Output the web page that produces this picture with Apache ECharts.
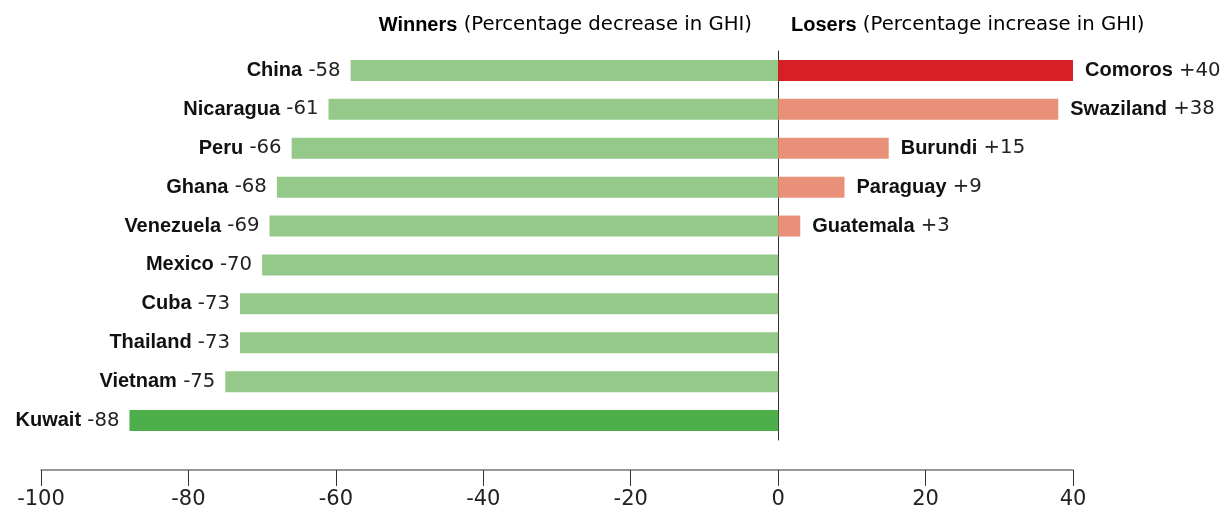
<!DOCTYPE html>
<html>
<head>
<meta charset="utf-8">
<script src="https://cdn.jsdelivr.net/npm/echarts@6/dist/echarts.min.js"></script>
<style>
html, body { margin: 0; padding: 0; background: #fff; }
#main { width: 1221px; height: 511px; }
</style>
</head>
<body>
<div id="main"></div>
<script>
// winners (decrease in GHI), one per row, top to bottom
var winners = ['China', 'Nicaragua', 'Peru', 'Ghana', 'Venezuela', 'Mexico', 'Cuba', 'Thailand', 'Vietnam', 'Kuwait'];
var winnerValues = [-58, -61, -66, -68, -69, -70, -73, -73, -75, -88];
// losers (increase in GHI), sharing the first rows
var losers = ['Comoros', 'Swaziland', 'Burundi', 'Paraguay', 'Guatemala'];
var loserValues = [40, 38, 15, 9, 3];
var xTicks = [-100, -80, -60, -40, -20, 0, 20, 40];

var BOLD = 'Liberation Sans';
var REG = 'DejaVu Sans';
var chartDom = document.getElementById('main');
var myChart = echarts.init(chartDom);

var rich = {
    b: { fontFamily: BOLD, fontSize: 20, fontWeight: 'bold', color: '#111' },
    n: { fontFamily: REG, fontSize: 19.7, color: '#222' }
};

var winData = winnerValues.map(function (v, i) {
    return {
        value: v,
        itemStyle: { color: i === winners.length - 1 ? '#4daf4a' : '#95c989' }
    };
});
var loseData = winners.map(function (w, i) {
    if (i >= loserValues.length) return null;
    return {
        value: loserValues[i],
        itemStyle: { color: i === 0 ? '#d71f26' : '#e89078' }
    };
});

var option = {
    animation: false,
    grid: { left: 41, right: 148, top: 51, bottom: 71 },
    graphic: [
        {
            type: 'text', right: 1221 - 752, top: 15,
            style: {
                text: '{b|Winners}{n| (Percentage decrease in GHI)}',
                rich: rich
            }
        },
        {
            type: 'text', left: 791, top: 15,
            style: {
                text: '{b|Losers}{n| (Percentage increase in GHI)}',
                rich: rich
            }
        }
    ],
    xAxis: {
        type: 'value',
        min: xTicks[0],
        max: xTicks[xTicks.length - 1],
        interval: 20,
        offset: 30,
        splitLine: { show: false },
        axisLine: { show: true, lineStyle: { color: '#777', width: 1.5 } },
        axisTick: { show: true, length: 16, lineStyle: { color: '#333' } },
        axisLabel: { fontFamily: REG, fontSize: 21, color: '#222', margin: 19 }
    },
    yAxis: {
        type: 'category',
        inverse: true,
        data: winners,
        axisLine: { show: true, onZero: true, lineStyle: { color: '#333', width: 1 } },
        axisTick: { show: false },
        axisLabel: { show: false }
    },
    series: [
        {
            type: 'bar',
            stack: 'ghi',
            barWidth: 21,
            data: winData,
            label: {
                show: true,
                position: 'left',
                distance: 10,
                formatter: function (p) {
                    return '{b|' + winners[p.dataIndex] + '}{n| ' + p.value + '}';
                },
                rich: rich
            }
        },
        {
            type: 'bar',
            stack: 'ghi',
            barWidth: 21,
            data: loseData,
            label: {
                show: true,
                position: 'right',
                distance: 12,
                formatter: function (p) {
                    return '{b|' + losers[p.dataIndex] + '}{n| +' + p.value + '}';
                },
                rich: rich
            }
        }
    ]
};
option && myChart.setOption(option);
</script>
</body>
</html>
